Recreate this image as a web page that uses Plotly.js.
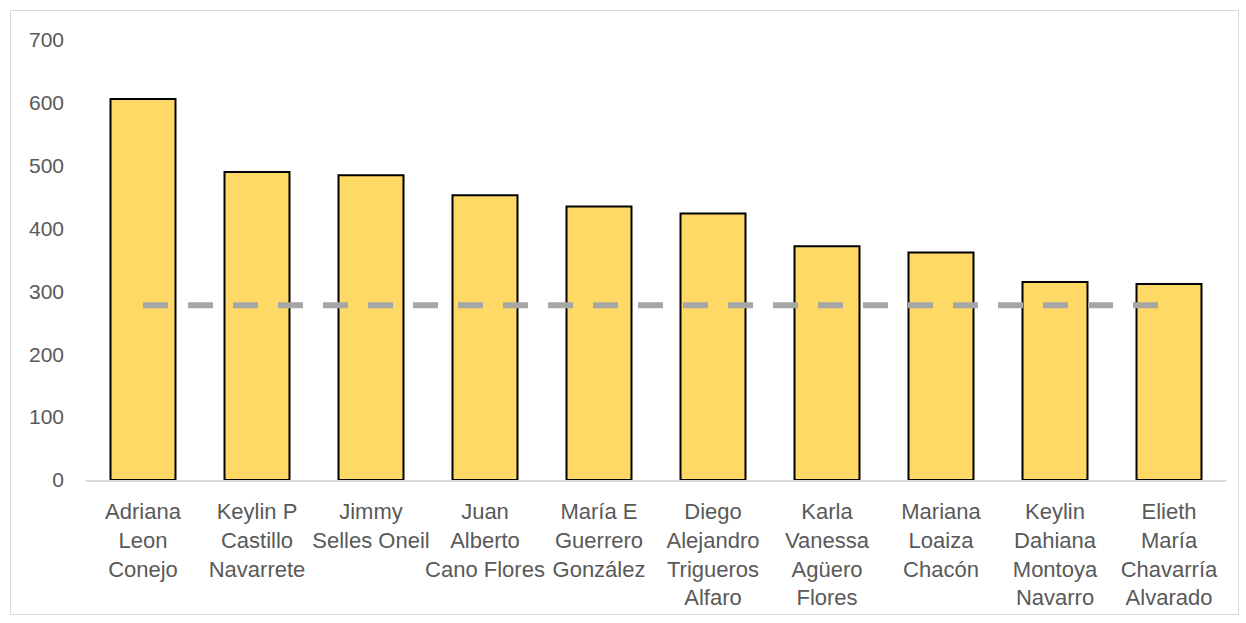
<!DOCTYPE html>
<html>
<head>
<meta charset="utf-8">
<script src="https://cdn.plot.ly/plotly-3.0.1.min.js"></script>
<style>
  html, body { margin: 0; padding: 0; background: #fff; }
  #wrap { position: relative; width: 1246px; height: 623px; }
  #chart { width: 1246px; height: 623px; }
  #frame { position: absolute; left: 10px; top: 10px; width: 1229px; height: 605px;
           border: 1px solid #d9d9d9; pointer-events: none; box-sizing: border-box; }
</style>
</head>
<body>
<div id="wrap"><div id="chart"></div><div id="frame"></div></div>
<script>
const categories = [
  "Adriana<br>Leon<br>Conejo",
  "Keylin P<br>Castillo<br>Navarrete",
  "Jimmy<br>Selles Oneil",
  "Juan<br>Alberto<br>Cano Flores",
  "María E<br>Guerrero<br>González",
  "Diego<br>Alejandro<br>Trigueros<br>Alfaro",
  "Karla<br>Vanessa<br>Agüero<br>Flores",
  "Mariana<br>Loaiza<br>Chacón",
  "Keylin<br>Dahiana<br>Montoya<br>Navarro",
  "Elieth<br>María<br>Chavarría<br>Alvarado"
];
const values = [606, 490, 485, 453, 435, 424, 372, 362, 315, 312];
const average = [278, 278, 278, 278, 278, 278, 278, 278, 278, 278];
const yTicks = [0, 100, 200, 300, 400, 500, 600, 700];

const font = "Liberation Sans, Arial, sans-serif";

const traces = [
  {
    type: "bar",
    x: categories,
    y: values,
    marker: { color: "#FFD966", line: { color: "#000000", width: 2 } },
    hoverinfo: "x+y"
  },
  {
    type: "scatter",
    mode: "lines",
    x: categories,
    y: average,
    line: { color: "#A6A6A6", width: 6, dash: "25px,20px" },
    hoverinfo: "y"
  }
];

const layout = {
  width: 1246,
  height: 623,
  margin: { l: 86, r: 20, t: 40, b: 143 },
  paper_bgcolor: "#ffffff",
  plot_bgcolor: "#ffffff",
  showlegend: false,
  bargap: 0.43,
  font: { family: font, size: 21, color: "#595959" },
  xaxis: {
    type: "category",
    showgrid: false,
    showline: true,
    linecolor: "#d9d9d9",
    linewidth: 2,
    ticks: "",
    tickangle: 0,
    ticklabelstandoff: 11,
    tickfont: { family: font, size: 22, color: "#595959" }
  },
  yaxis: {
    range: [0, 700],
    tickvals: yTicks,
    ticktext: yTicks.map(String),
    showgrid: false,
    zeroline: false,
    showline: false,
    ticks: "",
    ticklabelstandoff: 21,
    tickfont: { family: font, size: 21, color: "#595959" }
  }
};

Plotly.newPlot("chart", traces, layout, { staticPlot: true, displayModeBar: false });
</script>
</body>
</html>
